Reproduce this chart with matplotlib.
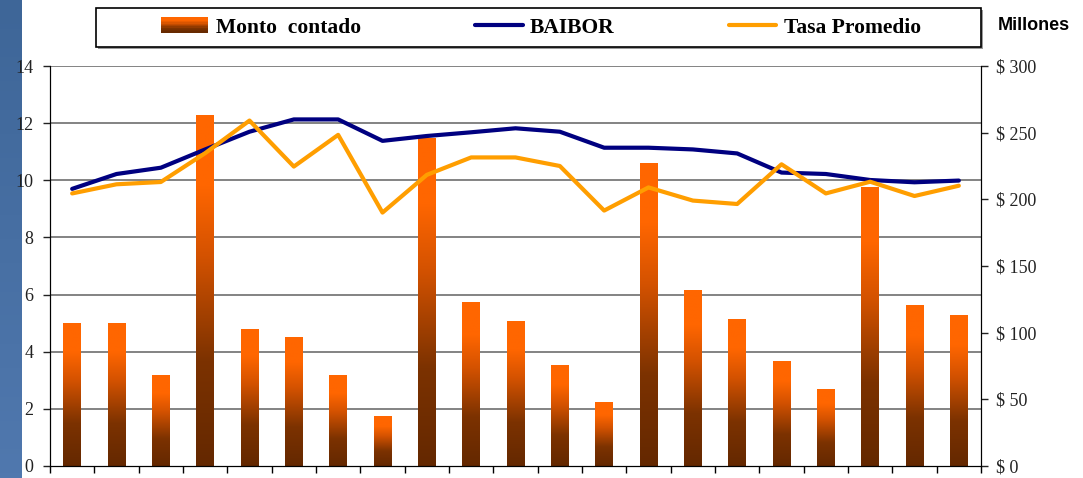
# Balkendiagramm Monto contado mit BAIBOR und Tasa Promedio
# ----------------------------------------------------------------

import numpy as np
import matplotlib.pyplot as plt
from matplotlib.colors import LinearSegmentedColormap
from matplotlib.patches import Rectangle
from matplotlib.lines import Line2D


# --  Daten  --

# Monto contado in Millionen $ (rechte Achse)
monto = [107, 107, 68, 263, 103, 97, 68, 37.5, 246, 123, 109,
         76, 48, 227.5, 132, 110, 79, 58, 209.5, 121, 113]

# Zinssaetze in % (linke Achse)
baibor = [9.70, 10.22, 10.44, 11.08, 11.70, 12.13, 12.13, 11.38, 11.55, 11.68, 11.82,
          11.70, 11.14, 11.14, 11.08, 10.94, 10.27, 10.22, 10.01, 9.93, 9.99]
tasa = [9.54, 9.86, 9.94, 10.95, 12.09, 10.48, 11.59, 8.87, 10.19, 10.80, 10.80,
        10.50, 8.94, 9.75, 9.29, 9.17, 10.56, 9.54, 9.95, 9.45, 9.81]

links_ticks = [0, 2, 4, 6, 8, 10, 12, 14]
rechts_ticks = [0, 50, 100, 150, 200, 250, 300]
rechts_labels = ["$ " + str(v) for v in rechts_ticks]


# --  Hauptprogramm  --

plt.rcParams['font.family'] = ['Liberation Serif', 'DejaVu Serif']

W, H = 1083, 478
fig = plt.figure(figsize=(W / 100, H / 100), dpi=100)

# Farbverlauf fuer die Balken (unten dunkelbraun, oben orange)
cmap = LinearSegmentedColormap.from_list(
    'monto', [(0, '#642800'), (0.3, '#7C3200'), (0.6, '#D45200'),
              (0.8, '#FF6600'), (1, '#FF6600')])

# blauer Streifen am linken Rand
streifen = fig.add_axes([0, 0, 22 / W, 1])
streifen.imshow(np.linspace(0, 1, 100).reshape(-1, 1), aspect='auto',
                cmap=LinearSegmentedColormap.from_list('s', ['#3E6698', '#5078AE']),
                extent=[0, 1, 0, 1], origin='upper')
streifen.axis('off')

# Hauptachse: Balken in Millionen, Skala rechts
ax = fig.add_axes([50 / W, 12 / H, 931 / W, 400 / H])
x = np.arange(len(monto))

# Gitterlinien nach der linken Skala (hinter den Balken)
for v in links_ticks[1:]:
    ax.axhline(v * 300 / 14, color='#6E6E6E', lw=1.2, zorder=1)

bars = ax.bar(x, monto, width=0.4, color='none', edgecolor='none', zorder=2)
grad = np.linspace(0, 1, 256).reshape(-1, 1)
for b in bars:
    bx, by = b.get_x(), b.get_y()
    im = ax.imshow(grad, extent=[bx, bx + b.get_width(), by, by + b.get_height()],
                   aspect='auto', cmap=cmap, origin='lower', zorder=2)
    im.set_clip_path(b)

ax.set_xlim(-0.5, len(monto) - 0.5)
ax.set_ylim(0, 300)
ax.set_xticks(np.arange(-0.5, len(monto), 1))
ax.set_xticklabels([])
ax.tick_params(axis='x', direction='out', length=5, width=1)
ax.spines['top'].set_visible(False)

# zweite Achse: Zinssaetze, Skala links
ax2 = ax.twinx()
ax2.plot(x, baibor, color='#000080', lw=3, solid_capstyle='round', zorder=3)
ax2.plot(x, tasa, color='#FF9E00', lw=3, solid_capstyle='round', zorder=3)
ax2.set_ylim(0, 14)
ax2.spines['top'].set_visible(False)

# Skalen tauschen (twinx setzt die Hauptachse nach links)
ax.yaxis.tick_right()
ax.set_yticks(rechts_ticks)
ax.set_yticklabels(rechts_labels)
ax.tick_params(axis='y', direction='out', length=5, width=1, pad=5.5, labelsize=13,
               colors='#222222')
ax2.yaxis.tick_left()
ax2.set_yticks(links_ticks)
ax2.tick_params(axis='y', direction='out', length=5, width=1, pad=7, labelsize=13,
                colors='#222222')

# Legende mit Rahmen und Schatten
fig.patches.append(Rectangle((98 / W, 1 - 49 / H), 885 / W, 39 / H, transform=fig.transFigure,
                             facecolor='#9A9A9A', edgecolor='none'))
fig.patches.append(Rectangle((96 / W, 1 - 47 / H), 885 / W, 39 / H, transform=fig.transFigure,
                             facecolor='white', edgecolor='black', lw=1.2))


class VerlaufHandler:
    def legend_artist(self, legend, orig_handle, fontsize, handlebox):
        x0, y0 = -handlebox.xdescent, -handlebox.ydescent
        w, h = handlebox.width, handlebox.height
        n = 12
        for i in range(n):
            r = Rectangle((x0, y0 + h * i / n), w, h / n + 0.4,
                          facecolor=cmap((i + 0.5) / n), edgecolor='none',
                          transform=handlebox.get_transform())
            handlebox.add_artist(r)
        return r


handles = [Rectangle((0, 0), 1, 1),
           Line2D([], [], color='#000080', lw=3, solid_capstyle='round'),
           Line2D([], [], color='#FF9E00', lw=3, solid_capstyle='round')]
labels = ["Monto  contado", "BAIBOR", "Tasa Promedio"]
fig.legend(handles, labels, ncol=3, loc='center', bbox_to_anchor=(541 / W, 1 - 27.5 / H),
           frameon=False, prop={'weight': 'bold', 'size': 15.5}, columnspacing=5.3,
           handlelength=2.2, handletextpad=0.35,
           handler_map={handles[0]: VerlaufHandler()})

# Einheit rechts oben
fig.text(1070 / W, 1 - 26 / H, "Millones", ha='right', va='center', fontsize=13,
         fontweight='bold', family='Liberation Sans')

fig.savefig('out.png', dpi=100)
